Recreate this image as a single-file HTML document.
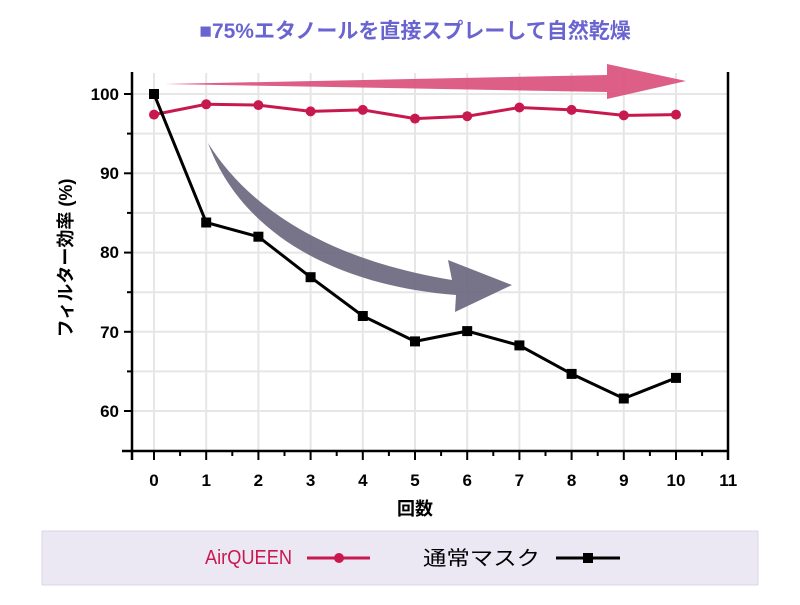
<!DOCTYPE html>
<html><head><meta charset="utf-8"><style>
body{margin:0;background:#fff;width:800px;height:600px;overflow:hidden;font-family:"Liberation Sans","Noto Sans CJK JP",sans-serif}
</style></head><body>
<svg width="800" height="600" viewBox="0 0 800 600" xmlns="http://www.w3.org/2000/svg" font-family="Liberation Sans, Noto Sans CJK JP, sans-serif">
<text x="415" y="38" text-anchor="middle" font-size="21" font-weight="bold" fill="#6a64d0">■75%エタノールを直接スプレーして自然乾燥</text>
<g stroke="#e6e6e6" stroke-width="2">
<line x1="154" y1="73" x2="154" y2="451"/><line x1="206.2" y1="73" x2="206.2" y2="451"/><line x1="258.4" y1="73" x2="258.4" y2="451"/><line x1="310.6" y1="73" x2="310.6" y2="451"/><line x1="362.8" y1="73" x2="362.8" y2="451"/><line x1="415" y1="73" x2="415" y2="451"/><line x1="467.2" y1="73" x2="467.2" y2="451"/><line x1="519.4" y1="73" x2="519.4" y2="451"/><line x1="571.6" y1="73" x2="571.6" y2="451"/><line x1="623.8" y1="73" x2="623.8" y2="451"/><line x1="676" y1="73" x2="676" y2="451"/>
<line x1="132" y1="94" x2="728" y2="94"/><line x1="132" y1="133.6" x2="728" y2="133.6"/><line x1="132" y1="173.3" x2="728" y2="173.3"/><line x1="132" y1="212.9" x2="728" y2="212.9"/><line x1="132" y1="252.6" x2="728" y2="252.6"/><line x1="132" y1="292.2" x2="728" y2="292.2"/><line x1="132" y1="331.8" x2="728" y2="331.8"/><line x1="132" y1="371.4" x2="728" y2="371.4"/><line x1="132" y1="411" x2="728" y2="411"/>
</g>
<g stroke="#000" stroke-width="2.5" fill="none">
<line x1="132" y1="72" x2="132" y2="460"/><line x1="728" y1="72" x2="728" y2="460"/><line x1="122" y1="451" x2="729" y2="451"/>
</g>
<g stroke="#000" stroke-width="2">
<line x1="124" y1="94" x2="132" y2="94"/><line x1="127" y1="133.6" x2="132" y2="133.6"/><line x1="124" y1="173.3" x2="132" y2="173.3"/><line x1="127" y1="212.9" x2="132" y2="212.9"/><line x1="124" y1="252.6" x2="132" y2="252.6"/><line x1="127" y1="292.2" x2="132" y2="292.2"/><line x1="124" y1="331.8" x2="132" y2="331.8"/><line x1="127" y1="371.4" x2="132" y2="371.4"/><line x1="124" y1="411" x2="132" y2="411"/>
<path d="M154 451v9M206.2 451v9M258.4 451v9M310.6 451v9M362.8 451v9M415 451v9M467.2 451v9M519.4 451v9M571.6 451v9M623.8 451v9M676 451v9M180.1 451v5M232.3 451v5M284.5 451v5M336.7 451v5M388.9 451v5M441.1 451v5M493.3 451v5M545.5 451v5M597.7 451v5M649.9 451v5M702.1 451v5"/>
</g>
<g font-size="17" text-anchor="end" fill="#000" font-weight="bold">
<text x="119" y="100">100</text><text x="119" y="179">90</text><text x="119" y="258">80</text><text x="119" y="338">70</text><text x="119" y="417">60</text>
</g>
<g font-size="17" text-anchor="middle" fill="#000" font-weight="bold">
<text x="154" y="486">0</text><text x="206.2" y="486">1</text><text x="258.4" y="486">2</text><text x="310.6" y="486">3</text><text x="362.8" y="486">4</text><text x="415" y="486">5</text><text x="467.2" y="486">6</text><text x="519.4" y="486">7</text><text x="571.6" y="486">8</text><text x="623.8" y="486">9</text><text x="676" y="486">10</text><text x="728.2" y="486">11</text>
</g>
<text x="415" y="515" text-anchor="middle" font-size="18" font-weight="bold">回数</text>
<text transform="translate(72,258) rotate(-90)" text-anchor="middle" font-size="18" font-weight="bold">フィルター効率 (%)</text>
<path d="M165 84 L607 75 L607 64 L686 81 L607 99 L607 92 Z" fill="#d94d7a" opacity="0.9"/>
<path d="M208 143 C250 210 330 260 452 280 L448 260 L512 285 L455 312 L456 295 C330 285 240 230 208 143 Z" fill="#6b6880" opacity="0.92"/>
<polyline points="154,114.6 206.2,104.3 258.4,105.1 310.6,111.4 362.8,109.9 415,118.6 467.2,116.2 519.4,107.5 571.6,109.9 623.8,115.4 676,114.6" fill="none" stroke="#c8194f" stroke-width="3"/>
<g fill="#c8194f">
<circle cx="154" cy="114.6" r="5"/><circle cx="206.2" cy="104.3" r="5"/><circle cx="258.4" cy="105.1" r="5"/><circle cx="310.6" cy="111.4" r="5"/><circle cx="362.8" cy="109.9" r="5"/><circle cx="415" cy="118.6" r="5"/><circle cx="467.2" cy="116.2" r="5"/><circle cx="519.4" cy="107.5" r="5"/><circle cx="571.6" cy="109.9" r="5"/><circle cx="623.8" cy="115.4" r="5"/><circle cx="676" cy="114.6" r="5"/>
</g>
<polyline points="154,94 206.2,222.5 258.4,236.7 310.6,277.2 362.8,316 415,341.4 467.2,331.1 519.4,345.4 571.6,373.9 623.8,398.5 676,377.9" fill="none" stroke="#000" stroke-width="3"/>
<g fill="#000">
<rect x="149" y="89" width="10" height="10"/><rect x="201.2" y="217.5" width="10" height="10"/><rect x="253.4" y="231.7" width="10" height="10"/><rect x="305.6" y="272.2" width="10" height="10"/><rect x="357.8" y="311" width="10" height="10"/><rect x="410" y="336.4" width="10" height="10"/><rect x="462.2" y="326.1" width="10" height="10"/><rect x="514.4" y="340.4" width="10" height="10"/><rect x="566.6" y="368.9" width="10" height="10"/><rect x="618.8" y="393.5" width="10" height="10"/><rect x="671" y="372.9" width="10" height="10"/>
</g>
<rect x="42" y="531" width="716" height="54" fill="#ebe8f4" stroke="#d8d4ea"/>
<text x="205" y="564" font-size="20" fill="#c8194f" textLength="87" lengthAdjust="spacingAndGlyphs">AirQUEEN</text>
<line x1="307" y1="558" x2="370" y2="558" stroke="#c8194f" stroke-width="3"/>
<circle cx="339" cy="558" r="5" fill="#c8194f"/>
<text x="423" y="565" font-size="20" fill="#000" textLength="117" lengthAdjust="spacingAndGlyphs">通常マスク</text>
<line x1="556" y1="558" x2="620" y2="558" stroke="#000" stroke-width="3"/>
<rect x="583" y="553" width="10" height="10" fill="#000"/>
</svg>
</body></html>
